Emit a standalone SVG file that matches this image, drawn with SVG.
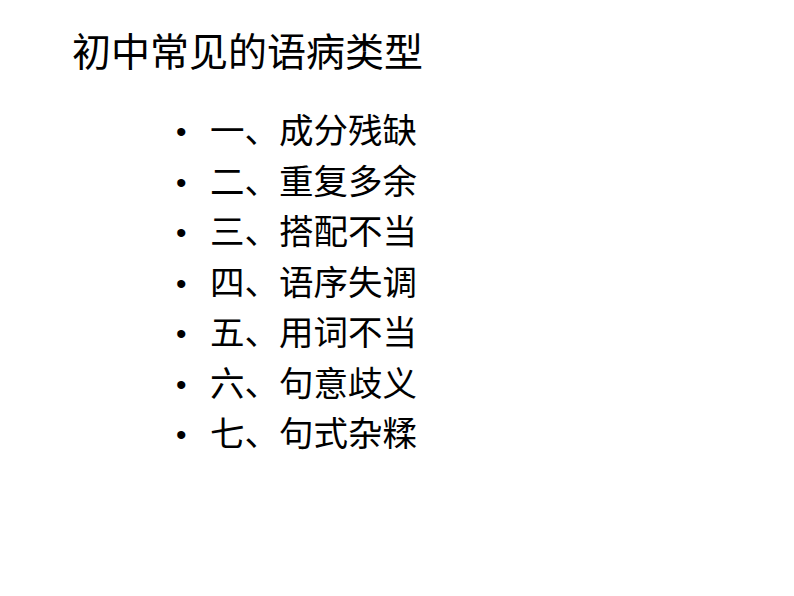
<svg xmlns="http://www.w3.org/2000/svg" width="794" height="596" viewBox="0 0 794 596">
<style>
text{font-family:"Liberation Sans","Noto Sans CJK SC",sans-serif;fill:#000}
.t{font-size:39px}
.i{font-size:34.5px}
.b{font-size:30px}
</style>
<rect width="794" height="596" fill="#fff"/>
<g id="title"><text class="t" x="72" y="66">初中常见的语病类型</text></g>
<g id="list">
<text class="b" x="176" y="142">•</text><text class="i" x="210" y="143">一、成分残缺</text>
<text class="b" x="176" y="193">•</text><text class="i" x="210" y="194">二、重复多余</text>
<text class="b" x="176" y="243">•</text><text class="i" x="210" y="244">三、搭配不当</text>
<text class="b" x="176" y="294">•</text><text class="i" x="210" y="295">四、语序失调</text>
<text class="b" x="176" y="344">•</text><text class="i" x="210" y="345">五、用词不当</text>
<text class="b" x="176" y="395">•</text><text class="i" x="210" y="396">六、句意歧义</text>
<text class="b" x="176" y="445">•</text><text class="i" x="210" y="446">七、句式杂糅</text>
</g>
</svg>
